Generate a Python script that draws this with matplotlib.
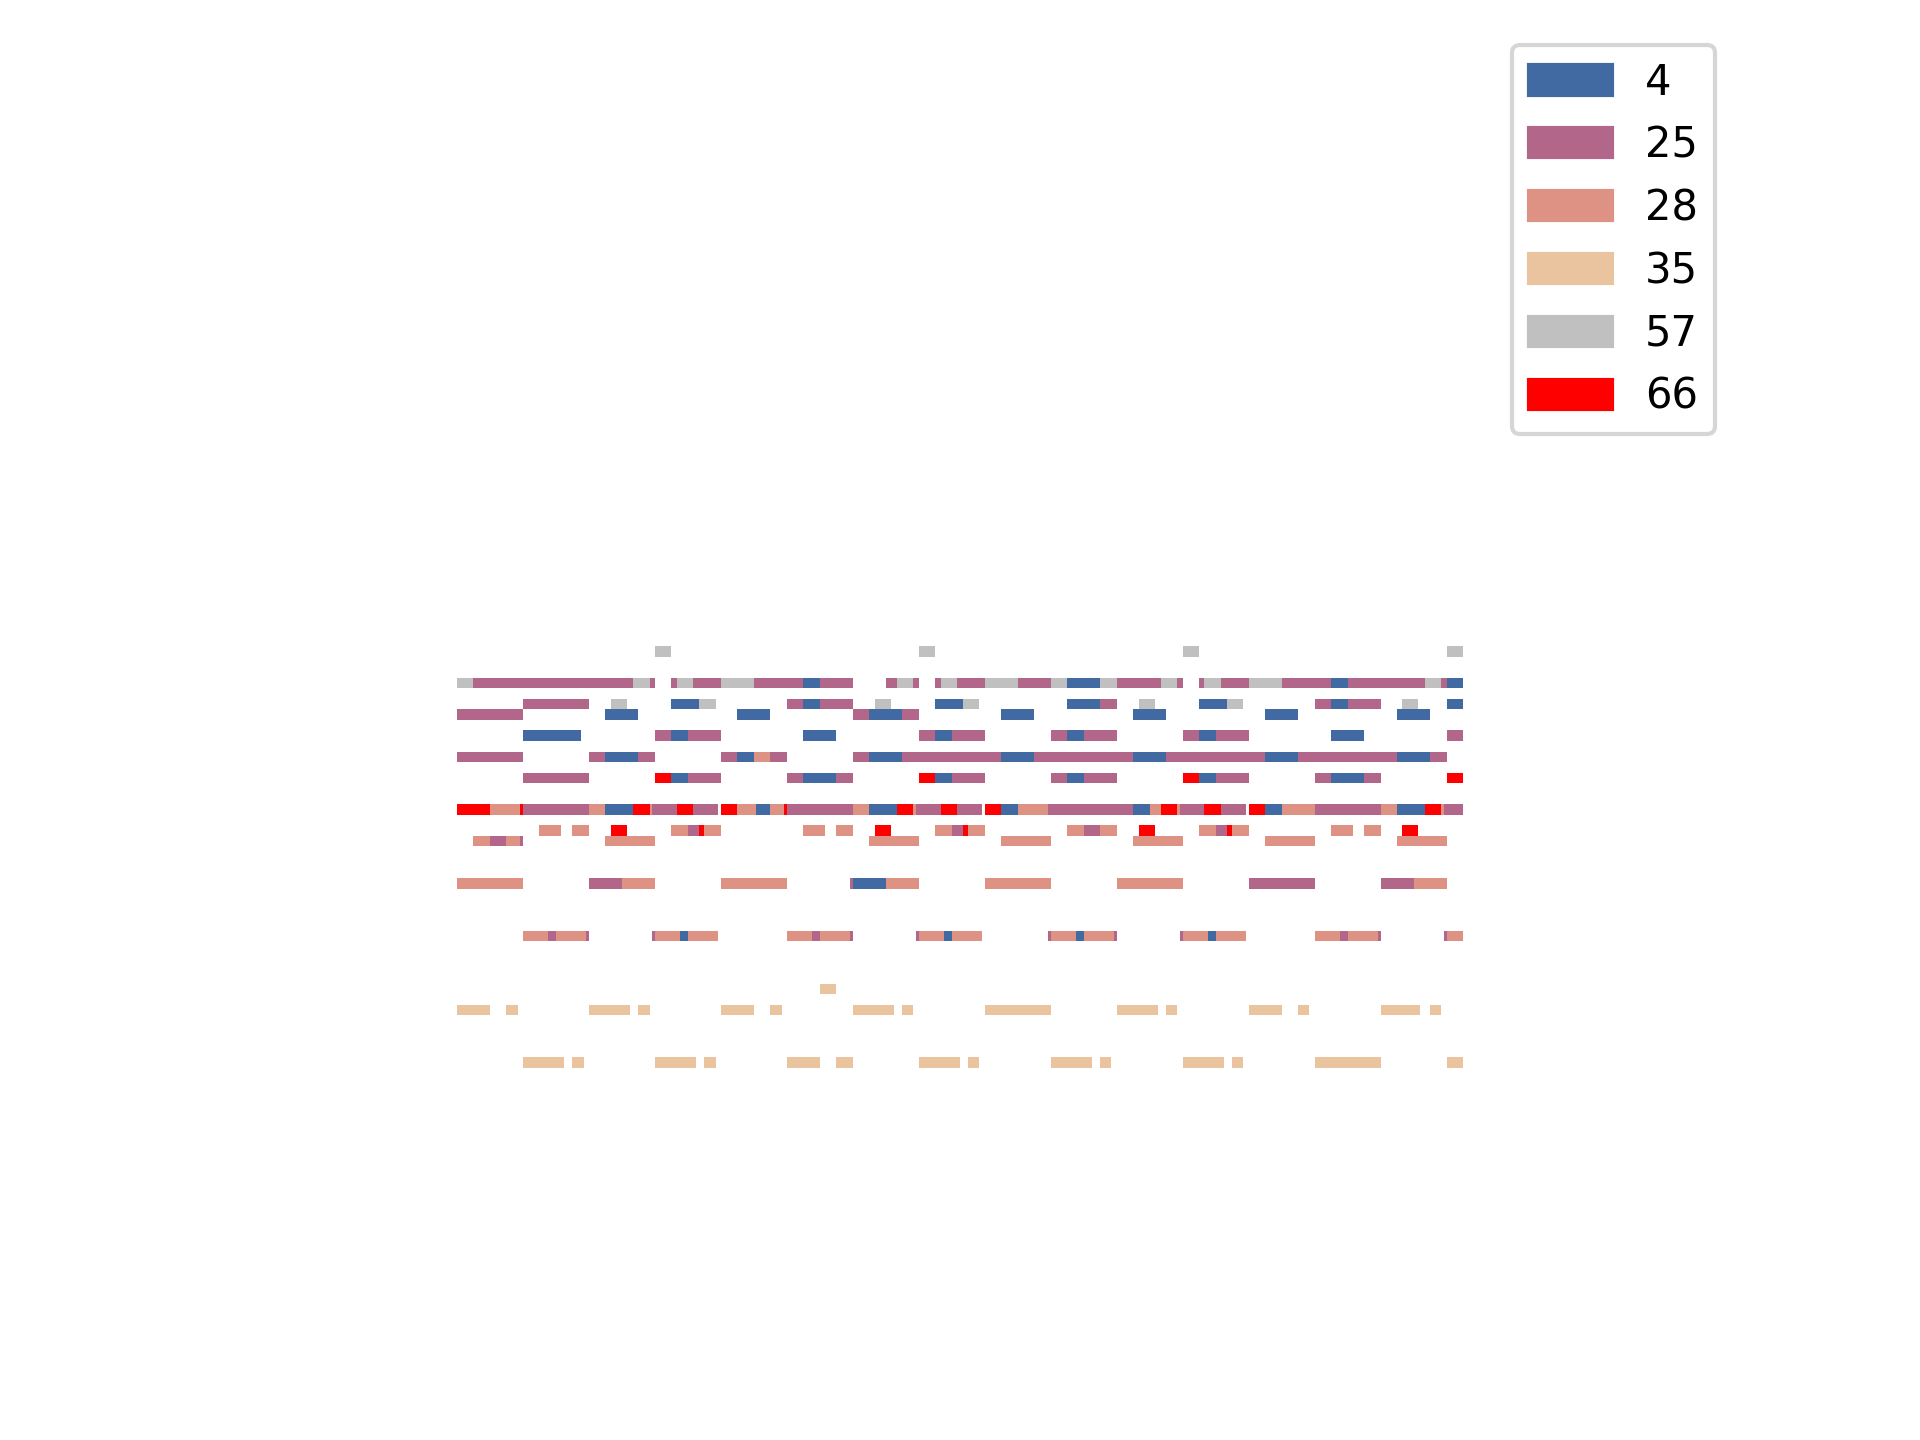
import matplotlib
matplotlib.use("Agg")
import matplotlib.pyplot as plt
import matplotlib.patches as mpatches

# programs shown in the legend and their colours
programs = [4, 25, 28, 35, 57, 66]
colors = ["#416AA3", "#B2678A", "#DE9283", "#EAC39F", "#C0C0C0", "#FF0000"]

# visible note pieces per program: (pitch, start, end), time in 16th steps
notes_4 = [
    (72, 21, 22), (72, 37, 39), (72, 53, 54), (72, 60, 61),
    (70, 13, 14.67), (70, 21, 22), (70, 29, 30.67), (70, 37, 39), (70, 45, 46.67), (70, 53, 54), (70, 60, 61),
    (69, 9, 11), (69, 17, 19), (69, 25, 27), (69, 33, 35), (69, 41, 43), (69, 49, 51), (69, 57, 59),
    (67, 4, 7.5), (67, 13, 14), (67, 21, 23), (67, 29, 30), (67, 37, 38), (67, 45, 46), (67, 53, 55),
    (65, 9, 11), (65, 17, 18), (65, 25, 27), (65, 33, 35), (65, 41, 43), (65, 49, 51), (65, 57, 59),
    (63, 13, 14), (63, 21, 23), (63, 29, 30), (63, 37, 38), (63, 45, 46), (63, 53, 55),
    (60, 9, 10.67), (60, 18.12, 19), (60, 25, 26.67), (60, 33, 34), (60, 41, 42), (60, 49, 50), (60, 57, 58.67),
    (53, 24, 26),
    (48, 13.52, 14), (48, 29.52, 30), (48, 37.52, 38), (48, 45.52, 46),
]
notes_25 = [
    (72, 1, 10.67), (72, 11.7, 12), (72, 13, 13.33), (72, 14.3, 16), (72, 18, 21), (72, 22, 24),
    (72, 26, 26.67), (72, 27.64, 28), (72, 29, 29.33), (72, 30.3, 32), (72, 34, 36), (72, 40, 42.67),
    (72, 43.64, 44), (72, 45, 45.3), (72, 46.3, 48), (72, 50, 53), (72, 54, 58.67), (72, 59.67, 60),
    (70, 4, 8), (70, 20, 21), (70, 22, 24), (70, 39, 40), (70, 52, 53), (70, 54, 56),
    (69, 0, 4), (69, 24, 25), (69, 27, 28),
    (67, 12, 13), (67, 14, 16), (67, 28, 29), (67, 30, 32), (67, 36, 37), (67, 38, 40),
    (67, 44, 45), (67, 46, 48), (67, 60, 61),
    (65, 0, 4), (65, 8, 9), (65, 11, 12), (65, 16, 17), (65, 19, 20), (65, 24, 25), (65, 27, 33),
    (65, 35, 41), (65, 43, 49), (65, 51, 57), (65, 59, 60),
    (63, 4, 8), (63, 14, 16), (63, 20, 21), (63, 23, 24), (63, 30, 32), (63, 36, 37), (63, 38, 40),
    (63, 46, 48), (63, 52, 53), (63, 55, 56),
    (60, 4, 8), (60, 11.82, 13.33), (60, 14.3, 15.82), (60, 20, 24), (60, 27.82, 29.33), (60, 30.3, 31.82),
    (60, 35.82, 41), (60, 43.82, 45.3), (60, 46.3, 47.82), (60, 52, 56), (60, 59.85, 61),
    (58, 14, 14.67), (58, 30, 30.67), (58, 38, 39), (58, 46, 46.67),
    (57, 2, 3), (57, 3.82, 4),
    (53, 8, 10), (53, 23.82, 24), (53, 48, 52), (53, 56, 58),
    (48, 5.52, 6), (48, 7.82, 8), (48, 11.82, 12), (48, 21.52, 22), (48, 23.82, 24), (48, 27.82, 28),
    (48, 35.82, 36), (48, 39.82, 40), (48, 43.82, 44), (48, 53.52, 54), (48, 55.82, 56), (48, 59.82, 60),
]
notes_28 = [
    (65, 18, 19),
    (60, 2, 3.82), (60, 8, 9), (60, 11.7, 11.82), (60, 17, 18.12), (60, 19, 19.82), (60, 24, 25),
    (60, 27.64, 27.82), (60, 34, 35.82), (60, 42, 42.67), (60, 43.64, 43.82), (60, 50, 52),
    (60, 56, 57), (60, 59.67, 59.85),
    (58, 5, 6.33), (58, 7, 8), (58, 13, 14), (58, 15, 16), (58, 21, 22.33), (58, 23, 24), (58, 29, 30),
    (58, 31, 32), (58, 37, 38), (58, 39, 40), (58, 45, 46), (58, 47, 48), (58, 53, 54.33), (58, 55, 56),
    (57, 1, 2), (57, 3, 3.82), (57, 9, 12), (57, 25, 28), (57, 33, 36), (57, 41, 44), (57, 49, 52), (57, 57, 60),
    (53, 0, 4), (53, 10, 12), (53, 16, 20), (53, 26, 28), (53, 32, 36), (53, 40, 44), (53, 58, 60),
    (48, 4, 5.52), (48, 6, 7.82), (48, 12, 13.52), (48, 14, 15.82), (48, 20, 21.52), (48, 22, 23.82),
    (48, 28, 29.52), (48, 30, 31.82), (48, 36, 37.52), (48, 38, 39.82), (48, 44, 45.52), (48, 46, 47.82),
    (48, 52, 53.52), (48, 54, 55.82), (48, 60, 61),
]
notes_35 = [
    (43, 22, 23),
    (41, 0, 2), (41, 3, 3.7), (41, 8, 10.48), (41, 11, 11.7), (41, 16, 18), (41, 19, 19.7), (41, 24, 26.48),
    (41, 27, 27.64), (41, 32, 36), (41, 40, 42.48), (41, 43, 43.64), (41, 48, 50), (41, 51, 51.64),
    (41, 56, 58.42), (41, 59, 59.64),
    (36, 4, 6.48), (36, 7, 7.7), (36, 12, 14.48), (36, 15, 15.7), (36, 20, 22), (36, 23, 24), (36, 28, 30.48),
    (36, 31, 31.67), (36, 36, 38.48), (36, 39, 39.64), (36, 44, 46.48), (36, 47, 47.64), (36, 52, 56),
    (36, 60, 61),
]
notes_57 = [
    (75, 12, 13), (75, 28, 29), (75, 44, 45), (75, 60, 61),
    (72, 0, 1), (72, 10.67, 11.7), (72, 13.33, 14.3), (72, 16, 18), (72, 26.67, 27.64), (72, 29.33, 30.3),
    (72, 32, 34), (72, 36, 37), (72, 39, 40), (72, 42.67, 43.64), (72, 45.3, 46.3), (72, 48, 50),
    (72, 58.67, 59.67),
    (70, 9.33, 10.3), (70, 14.67, 15.7), (70, 25.33, 26.3), (70, 30.67, 31.67), (70, 41.33, 42.33),
    (70, 46.67, 47.67), (70, 57.3, 58.3),
]
notes_66 = [
    (63, 12, 13), (63, 28, 29), (63, 44, 45), (63, 60, 61),
    (60, 0, 2), (60, 3.82, 4), (60, 10.67, 11.7), (60, 13.33, 14.3), (60, 16, 17), (60, 19.82, 20),
    (60, 26.67, 27.64), (60, 29.33, 30.3), (60, 32, 33), (60, 42.67, 43.64), (60, 45.3, 46.3),
    (60, 48, 49), (60, 58.67, 59.67),
    (58, 9.33, 10.3), (58, 14.67, 15), (58, 25.33, 26.3), (58, 30.67, 31), (58, 41.33, 42.3),
    (58, 46.67, 47), (58, 57.3, 58.3),
]

all_notes = [notes_4, notes_25, notes_28, notes_35, notes_57, notes_66]

fig = plt.figure(figsize=(6.4, 4.8), dpi=300)
# axes box sits exactly around the notes
ax = fig.add_axes([457 / 1920, 1 - 1068 / 1440, 1006 / 1920, 422 / 1440])

for notes, c in zip(all_notes, colors):
    pitches = [n[0] for n in notes]
    starts = [n[1] for n in notes]
    widths = [n[2] - n[1] for n in notes]
    ax.barh(pitches, widths, left=starts, height=1.0, color=c, linewidth=0, antialiased=False)

ax.set_xlim(0, 61)
ax.set_ylim(35.5, 75.5)
ax.axis("off")

handles = [mpatches.Patch(color=c, label=str(p)) for p, c in zip(programs, colors)]
fig.legend(handles=handles, loc="upper right", bbox_to_anchor=(1715 / 1920, 1 - 45 / 1440), borderaxespad=0)

fig.savefig("out.png", dpi=300)
